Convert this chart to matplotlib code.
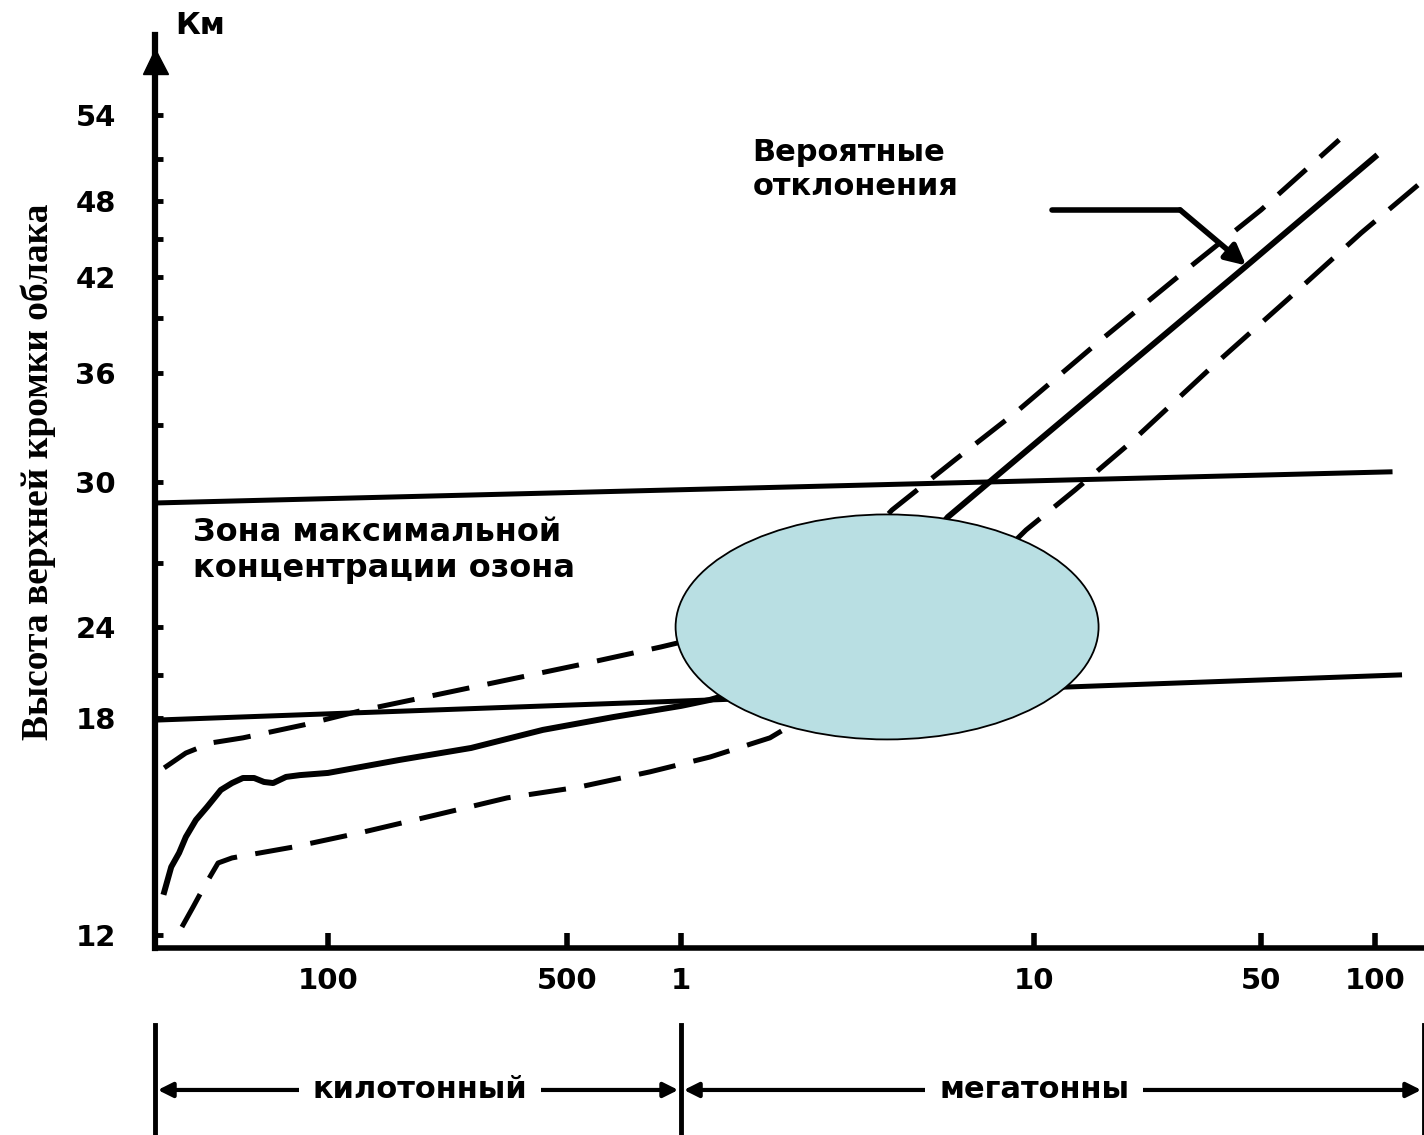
import numpy as np
import matplotlib
matplotlib.use('Agg')
import matplotlib.pyplot as plt
from matplotlib.patches import Ellipse
from matplotlib.ticker import FixedLocator, NullLocator

# --- axis calibration of the hand-drawn scales ---
# x: yield, kt (log-like, as drawn); y: cloud top height, km (uneven steps)
X_LOG_ANCHORS = [0, 2, 2.699, 3, 4, 4.699, 5, 7]
X_POS_ANCHORS = [-356, 328, 567, 681, 1034, 1261, 1375, 2133]
Y_KM_ANCHORS = [0, 12, 18, 21, 24, 27, 30, 33, 36, 39, 42, 45, 48, 51, 54, 80]
Y_POS_ANCHORS = [-421, 13, 230, 273, 321, 385, 466, 523, 575, 630, 671, 709, 747, 789, 833, 1214]

XLIM = (31.2, 134600)
YLIM = (11.64, 59.45)

# --- data ---
x_ticks_kt = [100, 500, 1000, 10000, 50000, 100000]
x_tick_labels = ['100', '500', '1', '10', '50', '100']
y_ticks_km = [12, 18, 24, 30, 36, 42, 48, 54]
y_minor_km = [21, 27, 33, 39, 45, 51]

# mean cloud top height
solid_kt = [33.2, 34.8, 36.7, 38.4, 41.1, 44.3, 48.6, 52.4, 56.4, 60.8, 65.0, 69.1, 75.4,
            82.8, 100, 162, 262, 425, 665, 1000, 1208, 1675, 2477, 3664, 5700, 8015,
            20900, 46200, 100000]
solid_km = [13.19, 13.88, 14.27, 14.71, 15.18, 15.54, 16.01, 16.20, 16.34, 16.34, 16.23,
            16.20, 16.37, 16.42, 16.48, 16.84, 17.17, 17.67, 18.07, 18.84, 19.26, 20.30,
            22.25, 25.27, 28.70, 30.47, 36.87, 43.10, 51.14]

# probable deviations (upper / lower)
upper_kt = [33.2, 38.4, 45.5, 56.4, 85.1, 127.4, 207, 334, 538, 885, 1290, 1908, 2821,
            3960, 5970, 8836, 16070, 30200, 50000, 80400]
upper_km = [16.62, 17.03, 17.31, 17.45, 17.81, 18.56, 19.61, 20.65, 21.63, 22.75, 23.63,
            24.80, 26.91, 28.96, 31.16, 33.69, 37.80, 42.79, 47.29, 52.30]
lower_kt = [37.4, 40.3, 43.4, 47.7, 52.4, 57.5, 79.0, 127.4, 207, 334, 538, 828, 1208,
            1786, 3013, 5780, 9490, 13370, 19770, 35300, 58600, 91900, 134700]
lower_km = [12.22, 12.77, 13.33, 13.99, 14.13, 14.20, 14.43, 14.85, 15.32, 15.79, 16.09,
            16.51, 16.92, 17.45, 19.95, 25.03, 28.22, 29.70, 32.05, 36.33, 40.32, 45.47, 49.5]

# ozone maximum zone boundaries
ozone_top_kt = [31.2, 109500]
ozone_top_km = [29.22, 30.53]
ozone_bottom_kt = [31.2, 116000]
ozone_bottom_km = [17.94, 21.0]

pointer_kt = [11360, 28160, 44980]
pointer_km = [47.29, 47.29, 42.90]

ellipse_kt, ellipse_km = 3834, 24.0

band_edges_kt = [XLIM[0], 1000, XLIM[1]]
band_labels = ['килотонный', 'мегатонны']
band_label_kt = [186, 10000]


def fwd_x(x):
    x = np.clip(np.asarray(x, dtype=float), 1e-6, None)
    return np.interp(np.log10(x), X_LOG_ANCHORS, X_POS_ANCHORS)


def inv_x(p):
    return 10 ** np.interp(p, X_POS_ANCHORS, X_LOG_ANCHORS)


def fwd_y(y):
    return np.interp(y, Y_KM_ANCHORS, Y_POS_ANCHORS)


def inv_y(p):
    return np.interp(p, Y_POS_ANCHORS, Y_KM_ANCHORS)


plt.rcParams['font.family'] = ['DejaVu Sans']

fig = plt.figure(figsize=(14.24, 11.35), dpi=100)
ax = fig.add_axes([155 / 1424, 1 - 948 / 1135, 1269 / 1424, 913 / 1135])
ax.set_xscale('function', functions=(fwd_x, inv_x))
ax.set_yscale('function', functions=(fwd_y, inv_y))
ax.set_xlim(*XLIM)
ax.set_ylim(*YLIM)

dash = (7.5, 3.7)
ax.plot(ozone_top_kt, ozone_top_km, color='black', lw=3.6)
ax.plot(ozone_bottom_kt, ozone_bottom_km, color='black', lw=3.6)
ax.plot(solid_kt, solid_km, color='black', lw=4.3, solid_joinstyle='round')
ax.plot(upper_kt, upper_km, color='black', lw=3.6, dashes=dash)
ax.plot(lower_kt, lower_km, color='black', lw=3.6, dashes=dash)

# pointer to the curves
ax.plot(pointer_kt[:2], pointer_km[:2], color='black', lw=4, solid_capstyle='round')
ax.annotate('', xy=(pointer_kt[2], pointer_km[2]), xytext=(pointer_kt[1], pointer_km[1]),
            arrowprops=dict(arrowstyle='-|>', lw=4, color='black', mutation_scale=30,
                            shrinkA=0, shrinkB=0))

# blank oval over the transition region
cx, cy = ax.transAxes.inverted().transform(ax.transData.transform((ellipse_kt, ellipse_km)))
ax.add_patch(Ellipse((cx, cy), 423 / 1269, 225 / 913, transform=ax.transAxes,
                     facecolor='#b9dfe3', edgecolor='black', lw=1.3, zorder=5))

# axes look
for side in ['top', 'right']:
    ax.spines[side].set_visible(False)
ax.spines['left'].set_linewidth(4.5)
ax.spines['bottom'].set_linewidth(4)
ax.plot([0], [0.972], marker='^', markersize=18, color='black',
        transform=ax.transAxes, clip_on=False)

ax.set_xticks(x_ticks_kt, x_tick_labels)
ax.xaxis.set_minor_locator(NullLocator())
ax.set_yticks(y_ticks_km, [str(v) for v in y_ticks_km])
ax.yaxis.set_minor_locator(FixedLocator(y_minor_km))
ax.tick_params(axis='x', which='major', direction='in', length=11, width=4, pad=14, labelsize=21)
ax.tick_params(axis='y', which='major', direction='in', length=6, width=3.5, pad=28, labelsize=21)
ax.tick_params(axis='y', which='minor', direction='in', length=6, width=3.5)
for lbl in ax.get_xticklabels() + ax.get_yticklabels():
    lbl.set_fontweight('bold')

# text
ax.text(0.471, 0.887, 'Вероятные\nотклонения', transform=ax.transAxes,
        ha='left', va='top', fontsize=22, fontweight='bold')
ax.text(0.030, 0.472, 'Зона максимальной\nконцентрации озона', transform=ax.transAxes,
        ha='left', va='top', fontsize=23, fontweight='bold')
fig.text(175 / 1424, 1 - 25 / 1135, 'Км', ha='left', va='center', fontsize=22, fontweight='bold')
fig.text(38 / 1424, 1 - 472 / 1135, 'Высота верхней кромки облака', rotation=90,
         ha='center', va='center', fontsize=27, fontweight='bold', family='Liberation Serif')

# kiloton / megaton bands under the axis
trans = ax.get_xaxis_transform()
band_y = -0.1555
for x in band_edges_kt:
    ax.plot([x, x], [-0.084, -0.21], transform=trans, color='black', lw=3.5, clip_on=False)
for i, label in enumerate(band_labels):
    ax.annotate('', xy=(band_edges_kt[i], band_y), xytext=(band_edges_kt[i + 1], band_y),
                xycoords=trans, textcoords=trans, annotation_clip=False,
                arrowprops=dict(arrowstyle='<|-|>', lw=3, color='black', mutation_scale=22,
                                shrinkA=2, shrinkB=2))
    ax.text(band_label_kt[i], band_y, label, transform=trans, ha='center', va='center',
            fontsize=22, fontweight='bold',
            bbox=dict(facecolor='white', edgecolor='none', boxstyle='square,pad=0.45'))

fig.savefig('out.png', dpi=100, facecolor='white')
